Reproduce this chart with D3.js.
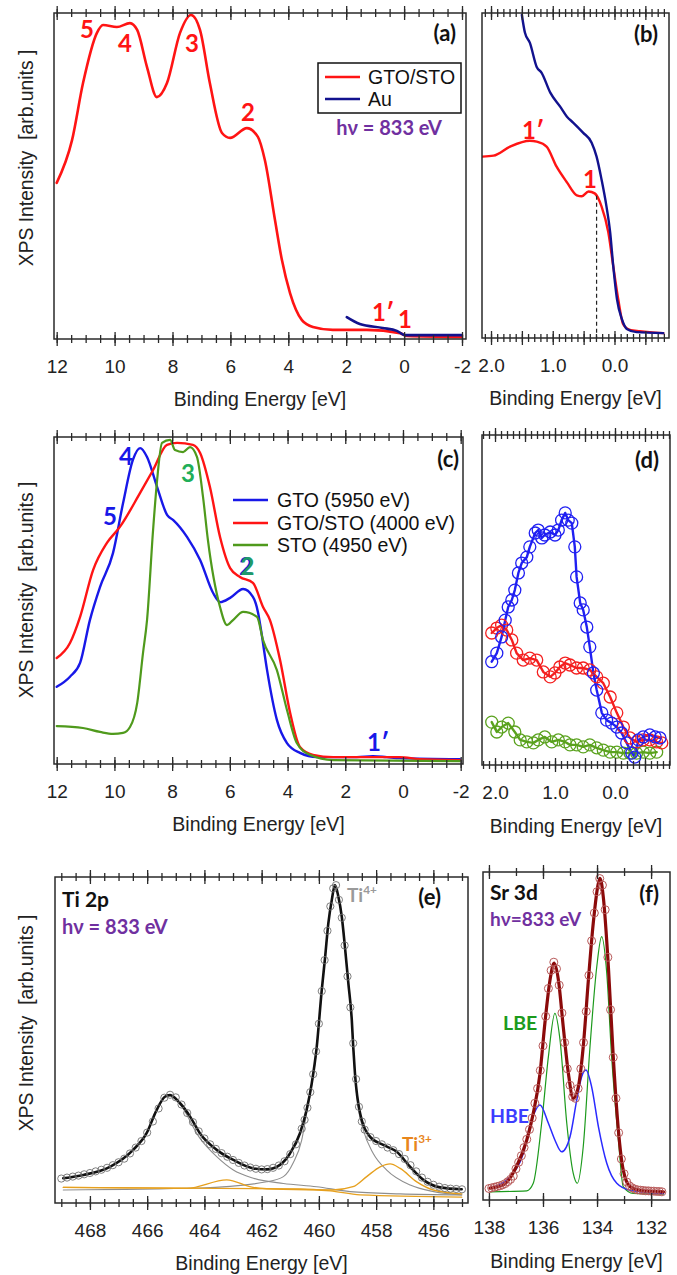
<!DOCTYPE html>
<html><head><meta charset="utf-8">
<script src="https://cdn.jsdelivr.net/npm/d3@7"></script>
<style>body{margin:0;background:#fff} svg{display:block}</style>
</head><body><svg id="c" width="677" height="1275"></svg>
<script>
// ---------------- DATA ----------------
// panel (a)  [binding energy eV, intensity arb.]
const aGtoSto = [[12.0,47.9],[11.47,61.0],[11.09,78.5],[10.61,93.9],[10.40,96.3],[9.92,95.7],[9.47,96.9],[9.22,94.8],[8.88,83.4],[8.54,74.2],[8.19,78.5],[7.74,93.9],[7.36,99.4],[7.05,94.8],[6.71,78.5],[6.29,63.2],[6.01,61.7],[5.43,64.7],[5.05,62.0],[4.81,54.9],[4.46,36.5],[4.22,24.2],[3.94,14.1],[3.53,5.8],[3.15,3.7],[2.46,2.8],[1.29,2.8],[0.14,1.8],[-0.10,0.9],[-2.0,0.6]];
const aAu = [[1.98,6.7],[1.53,4.6],[0.74,3.4],[0.25,2.5],[-0.03,1.2],[-2.0,1.2]];
// panel (b)
const bGtoSto = [[2.14,55.8],[1.96,56.1],[1.69,58.9],[1.37,60.7],[1.26,60.4],[1.10,58.9],[0.94,52.8],[0.77,47.9],[0.61,43.9],[0.53,43.6],[0.42,45.1],[0.32,44.5],[0.21,40.5],[0.10,32.5],[0.02,22.1],[-0.06,12.0],[-0.14,4.3],[-0.25,2.5],[-0.41,2.1],[-0.57,1.8],[-0.79,1.5]];
const bAu = [[1.50,99.4],[1.45,93.9],[1.37,90.8],[1.26,83.4],[1.18,81.6],[1.04,75.5],[0.88,71.2],[0.77,68.1],[0.67,66.3],[0.51,63.2],[0.37,60.1],[0.29,55.8],[0.21,48.8],[0.13,40.5],[0.07,32.5],[0.02,22.1],[-0.04,12.0],[-0.12,5.8],[-0.20,2.8],[-0.36,1.8],[-0.79,1.5]];
const bFermi = [[0.29,43.8],[0.29,0]];
// panel (c)
const cGto = [[12.00,23.6],[11.54,26.7],[11.19,30.9],[10.85,44.0],[10.50,54.1],[10.05,64.5],[9.70,79.8],[9.36,93.0],[9.11,96.6],[8.87,93.9],[8.52,84.7],[8.17,76.1],[7.96,74.6],[7.48,69.4],[7.03,62.4],[6.58,52.3],[6.33,49.5],[5.99,50.8],[5.54,53.5],[5.20,51.1],[5.02,46.2],[4.92,41.0],[4.71,28.7],[4.37,13.5],[4.02,6.4],[3.57,3.4],[2.98,2.1],[1.60,2.1],[1.04,2.4],[0.56,2.1],[0.11,1.8],[-1.97,1.5]];
const cGtoSto = [[12.00,32.4],[11.54,37.0],[11.19,45.0],[10.74,59.3],[10.26,67.6],[9.81,72.5],[9.11,82.9],[8.66,89.9],[8.18,97.6],[7.83,98.2],[7.28,97.6],[7.03,95.1],[6.69,84.7],[6.34,69.4],[5.99,59.9],[5.65,57.2],[5.20,55.4],[4.85,48.0],[4.61,44.0],[4.26,31.8],[3.91,15.6],[3.57,5.2],[3.12,2.8],[2.42,2.1],[0.11,2.1],[-0.58,1.5],[-1.97,1.2]];
const cSto = [[12.00,11.6],[11.09,11.0],[10.50,9.8],[10.05,9.2],[9.70,9.5],[9.46,11.3],[9.21,18.7],[9.01,33.9],[8.87,44.0],[8.66,71.6],[8.52,86.9],[8.35,98.2],[8.07,99.1],[7.90,96.0],[7.62,95.4],[7.38,96.9],[7.14,93.9],[6.93,81.7],[6.76,68.5],[6.34,48.0],[6.10,42.5],[5.89,44.0],[5.54,46.5],[5.06,45.0],[4.85,37.9],[4.37,28.7],[4.02,16.5],[3.68,6.4],[3.23,2.8],[2.42,1.2],[-1.97,0.9]];
const cLegend = ["GTO (5950 eV)","GTO/STO (4000 eV)","STO (4950 eV)"];
// panel (d)
const dGto = [[2.055,31.3],[1.97,33.9],[1.89,38.8],[1.83,43.9],[1.78,47.9],[1.72,50.0],[1.67,53.0],[1.61,58.2],[1.555,61.2],[1.47,63.0],[1.42,66.1],[1.33,70.3],[1.28,71.2],[1.22,68.8],[1.17,69.7],[1.08,70.6],[1.00,69.7],[0.945,71.2],[0.89,74.2],[0.83,76.4],[0.78,74.2],[0.72,73.3],[0.67,66.1],[0.64,57.0],[0.58,49.1],[0.53,47.0],[0.47,41.8],[0.42,35.8],[0.36,27.9],[0.305,22.7],[0.22,15.8],[0.14,13.6],[0.055,12.7],[-0.03,11.5],[-0.11,9.7],[-0.195,6.7],[-0.28,3.6],[-0.33,2.4],[-0.39,7.6],[-0.47,8.5],[-0.58,9.1],[-0.67,8.5],[-0.75,8.2]];
const dGtoSto = [[2.055,40.0],[1.97,41.5],[1.89,42.4],[1.805,40.9],[1.72,37.9],[1.64,33.9],[1.53,31.8],[1.42,32.4],[1.305,31.8],[1.195,28.2],[1.08,26.7],[1.00,27.9],[0.92,29.7],[0.83,30.9],[0.75,30.3],[0.64,29.4],[0.53,29.4],[0.42,28.8],[0.305,26.7],[0.195,24.8],[0.08,20.6],[-0.03,15.8],[-0.14,11.5],[-0.25,8.2],[-0.36,7.0],[-0.47,7.6],[-0.58,7.6],[-0.695,7.0],[-0.78,6.7]];
const dSto = [[2.055,13.0],[1.97,10.0],[1.89,11.5],[1.78,12.7],[1.67,10.0],[1.58,7.6],[1.47,7.0],[1.36,6.7],[1.28,7.6],[1.17,8.5],[1.055,7.0],[0.945,7.6],[0.83,7.0],[0.75,6.1],[0.64,6.1],[0.53,5.5],[0.42,6.1],[0.305,5.2],[0.195,4.5],[0.08,3.9],[-0.03,3.9],[-0.14,3.6],[-0.25,3.6],[-0.36,3.6],[-0.47,3.9],[-0.58,3.6],[-0.695,3.9]];
// panel (e) Ti 2p
const eData = [[469.0,7.5],[468.8,7.8],[468.6,8.1],[468.4,8.4],[468.2,8.8],[468.0,9.2],[467.8,9.7],[467.6,10.2],[467.4,10.8],[467.2,11.6],[467.0,12.5],[466.8,13.6],[466.6,15.2],[466.4,17.0],[466.2,19.0],[466.0,21.6],[465.8,25.0],[465.6,29.0],[465.4,32.3],[465.2,33.2],[465.0,32.4],[464.8,30.2],[464.6,27.6],[464.4,24.8],[464.2,22.0],[464.0,19.8],[463.8,18.0],[463.6,16.6],[463.4,15.3],[463.2,14.2],[463.0,13.2],[462.8,12.3],[462.6,11.5],[462.4,10.9],[462.2,10.5],[462.0,10.3],[461.8,10.4],[461.6,10.8],[461.4,11.5],[461.2,12.8],[461.0,15.0],[460.8,18.0],[460.6,22.8],[460.5,25.5],[460.4,29.2],[460.3,34.0],[460.2,39.5],[460.1,46.5],[460.0,55.0],[459.9,65.0],[459.8,74.5],[459.7,83.5],[459.6,91.0],[459.5,96.5],[459.4,97.5],[459.3,93.0],[459.2,87.5],[459.1,79.0],[459.0,69.5],[458.9,60.0],[458.8,49.0],[458.7,38.0],[458.6,29.5],[458.5,25.0],[458.4,22.5],[458.2,20.2],[458.0,19.0],[457.8,18.0],[457.6,17.0],[457.4,16.2],[457.2,15.0],[457.0,13.5],[456.8,11.6],[456.6,9.7],[456.4,7.8],[456.2,6.5],[456.0,5.6],[455.8,5.0],[455.6,4.6],[455.4,4.4],[455.2,4.3],[455.0,4.2]];
const eFit = [[468.93,7.6],[468.23,8.6],[467.30,11.1],[466.49,16.3],[466.02,21.4],[465.67,28.5],[465.38,32.6],[465.20,33.1],[464.85,30.6],[464.50,26.5],[464.16,21.4],[463.57,16.3],[462.99,13.2],[462.29,10.6],[461.82,10.3],[461.36,11.7],[461.01,15.2],[460.66,21.4],[460.43,28.5],[460.25,36.7],[460.08,47.5],[459.90,65.3],[459.78,75.6],[459.67,85.8],[459.55,92.9],[459.44,97.5],[459.32,94.0],[459.20,87.8],[459.09,78.6],[458.97,67.4],[458.85,56.1],[458.80,47.9],[458.74,39.8],[458.56,27.5],[458.21,20.3],[457.75,17.8],[457.28,15.7],[456.81,11.1],[456.35,7.1],[455.77,4.8],[455.01,4.2]];
const eTi4Hi = [[468.93,7.6],[468.23,8.6],[467.30,11.1],[466.49,16.3],[466.02,21.4],[465.67,28.5],[465.38,32.6],[465.20,33.1],[464.85,30.3],[464.16,19.9],[463.57,14.2],[462.99,10.1],[462.29,7.6],[461.24,6.0],[460.08,5.0],[458.91,3.5],[457.16,2.8],[455.01,2.5]];
const eTi4Lo = [[468.93,4.0],[464.16,4.6],[461.82,6.5],[461.24,8.1],[460.90,12.3],[460.60,19.3],[460.43,27.5],[460.25,36.0],[460.08,47.0],[459.90,65.0],[459.78,75.6],[459.67,85.8],[459.55,92.9],[459.44,97.5],[459.32,94.0],[459.20,87.8],[459.09,78.6],[458.97,67.4],[458.85,56.0],[458.74,39.0],[458.63,29.5],[458.45,22.4],[458.10,15.2],[457.63,10.1],[456.81,5.5],[455.99,3.5],[455.01,2.5]];
const eTi3 = [[468.93,4.8],[464.61,4.5],[463.22,7.1],[462.30,4.8],[461.25,4.2],[459.51,4.0],[458.81,5.0],[458.33,8.1],[457.86,11.1],[457.51,12.0],[457.16,10.6],[456.58,6.5],[456.00,4.0],[455.01,2.8]];
const eBgOrange = [[468.93,4.8],[460.66,4.3],[459.60,3.7],[458.56,2.5],[455.01,1.8]];
// panel (f) Sr 3d
const fData = [[138.0,3.5],[137.9,3.7],[137.8,3.9],[137.7,4.1],[137.6,4.3],[137.5,4.6],[137.4,5.0],[137.3,5.6],[137.2,6.3],[137.1,7.3],[137.0,9.5],[136.9,11.5],[136.8,13.5],[136.7,16.0],[136.6,18.5],[136.5,21.5],[136.4,25.0],[136.3,29.5],[136.2,34.0],[136.1,39.5],[136.0,47.0],[135.9,56.0],[135.8,64.5],[135.7,70.0],[135.6,72.5],[135.5,70.5],[135.4,65.5],[135.3,57.0],[135.2,48.0],[135.1,40.0],[135.0,35.0],[134.9,31.5],[134.8,31.0],[134.7,34.0],[134.6,40.0],[134.5,48.0],[134.4,57.5],[134.3,68.5],[134.2,79.0],[134.1,87.5],[134.0,94.0],[133.9,98.0],[133.8,96.0],[133.7,88.5],[133.6,74.0],[133.5,58.0],[133.4,43.5],[133.3,31.0],[133.2,20.5],[133.1,12.5],[133.0,8.0],[132.9,5.5],[132.8,4.3],[132.7,3.7],[132.6,3.3],[132.5,3.1],[132.4,3.0],[132.3,2.9],[132.2,2.8],[132.1,2.8],[132.0,2.7],[131.9,2.7],[131.8,2.6],[131.7,2.6],[131.6,2.5]];
const fFit = [[137.96,3.6],[137.47,4.6],[136.98,10.2],[136.60,18.3],[136.36,26.4],[136.11,38.6],[135.93,53.9],[135.74,67.1],[135.59,72.2],[135.43,67.1],[135.25,52.8],[135.06,38.6],[134.88,31.0],[134.69,34.6],[134.51,46.8],[134.32,67.1],[134.14,84.4],[133.95,96.6],[133.89,98.1],[133.77,92.5],[133.58,71.1],[133.40,43.7],[133.21,21.3],[133.03,9.1],[132.78,4.1],[132.29,2.8],[131.54,2.5]];
const fLBE = [[137.96,2.5],[136.60,2.8],[136.36,5.1],[136.05,23.4],[135.80,43.7],[135.56,56.9],[135.37,48.8],[135.12,23.4],[134.88,8.1],[134.73,5.1],[134.51,16.3],[134.26,46.8],[134.01,71.1],[133.83,80.3],[133.64,69.1],[133.46,43.7],[133.21,18.3],[133.03,4.1],[132.66,2.0],[131.54,1.8]];
const fHBE = [[137.96,3.6],[137.22,7.1],[136.73,14.2],[136.42,24.4],[136.11,29.0],[135.80,23.4],[135.56,18.3],[135.31,14.7],[135.00,19.3],[134.75,30.5],[134.57,37.6],[134.41,39.6],[134.20,34.5],[133.95,22.4],[133.64,11.2],[133.27,5.1],[132.78,3.0],[131.54,2.0]];
// tick labels
const ticksVB = [12,10,8,6,4,2,0,-2];
const ticksLow = [2.0,1.0,0.0];
const ticksLowMid = [1.5,0.5,-0.5];
const ticksTi = [468,466,464,462,460,458,456];
const ticksSr = [138,136,134,132];

// ---------------- DRAWING ----------------
const svg = d3.select("#c");
const FA = "'Liberation Sans', Arial, sans-serif";
const FC = "Lato, 'Open Sans', sans-serif";
const INK = "#2a2a2a";

function panel(id, box, xd) {
  const x = d3.scaleLinear().domain(xd).range([box[0], box[1]]);
  const y = d3.scaleLinear().domain([0, 100]).range([box[3], box[2]]);
  svg.append("clipPath").attr("id", "clip" + id).append("rect")
    .attr("x", box[0]).attr("y", box[2]).attr("width", box[1] - box[0]).attr("height", box[3] - box[2]);
  const g = svg.append("g").attr("clip-path", `url(#clip${id})`);
  return {x, y, g, box};
}
function axes(p, labeled, extraMajor, minor, fmt, title, ylab) {
  const [x0, x1, y0, y1] = p.box;
  const mk = (gen, vals, len, yy, lab) => {
    const a = svg.append("g").attr("transform", `translate(0,${yy})`)
      .call(gen(p.x).tickValues(vals).tickSize(len).tickPadding(13.5).tickFormat(lab ? fmt : () => ""));
    a.select(".domain").remove();
    a.selectAll("line").attr("stroke", INK).attr("stroke-width", 1.3);
    a.selectAll("text").attr("font-family", FA).attr("font-size", 19).attr("fill", "#222");
  };
  const majors = labeled.concat(extraMajor);
  [y0, y1].forEach(yy => {
    mk(d3.axisBottom, labeled, 7, yy, yy === y1);
    if (extraMajor.length) mk(d3.axisBottom, extraMajor, 7, yy, false);
    mk(d3.axisTop, majors, 7, yy, false);
    mk(d3.axisBottom, minor, 4, yy, false);
    mk(d3.axisTop, minor, 4, yy, false);
  });
  svg.append("rect").attr("x", x0).attr("y", y0).attr("width", x1 - x0).attr("height", y1 - y0)
    .attr("fill", "none").attr("stroke", INK).attr("stroke-width", 1.5);
  svg.append("text").attr("x", (x0 + x1) / 2).attr("y", title).attr("text-anchor", "middle")
    .attr("font-family", FA).attr("font-size", 19.5).attr("fill", "#222").text("Binding Energy [eV]");
  if (ylab) {
    svg.append("text").attr("transform", `translate(33,${ylab}) rotate(-90)`).attr("text-anchor", "middle")
      .style("white-space", "pre").attr("font-family", FA).attr("font-size", 19.3).attr("fill", "#222")
      .text("XPS Intensity  [arb.units ]");
  }
}
function curve(p, data, color, w, lin) {
  const line = d3.line().x(d => p.x(d[0])).y(d => p.y(d[1])).curve(lin ? d3.curveLinear : d3.curveMonotoneX);
  return p.g.append("path").datum(data).attr("d", line).attr("fill", "none")
    .attr("stroke", color).attr("stroke-width", w).attr("stroke-linejoin", "round").attr("stroke-linecap", "round");
}
function circles(p, data, color, r, w) {
  svg.append("g").selectAll("circle").data(data).join("circle")
    .attr("cx", d => p.x(d[0])).attr("cy", d => p.y(d[1])).attr("r", r)
    .attr("fill", "none").attr("stroke", color).attr("stroke-width", w);
}
function txt(x, y, s, o) {
  return svg.append("text").attr("x", x).attr("y", y).attr("text-anchor", o.anchor || "start")
    .attr("font-family", o.font || FC).attr("font-weight", o.weight || "bold")
    .attr("font-size", o.size || 22).attr("fill", o.color || "#111").text(s);
}
function sup(x, y, base, s, o) {
  const t = txt(x, y, base, o);
  t.append("tspan").attr("font-size", (o.size || 20) * 0.62).attr("dy", -8).text(s);
}
const range = (a, b, s) => d3.range(Math.round((b - a) / s) + 1).map(i => +(a + i * s).toFixed(3));

const RED = "#ff1414", NAVY = "#12128e", BLUE = "#1818e8", GREEN = "#4f9a1c", EMER = "#20ae58", PURPLE = "#7030a0";
const fmtInt = d => String(d), fmt1 = d => d.toFixed(1);

// ---- (a)
const pa = panel("a", [54, 466, 13, 339], [12.093, -2.138]);
curve(pa, aGtoSto, RED, 2.6);
curve(pa, aAu, NAVY, 2.6);
axes(pa, ticksVB, [], range(-2, 12, 0.5), fmtInt, 406, 158);
svg.append("rect").attr("x", 318).attr("y", 63).attr("width", 143).attr("height", 50)
  .attr("fill", "#fff").attr("stroke", "#111").attr("stroke-width", 1.5);
[[RED, "GTO/STO", 77], [NAVY, "Au", 99]].forEach(([c, s, yy]) => {
  svg.append("line").attr("x1", 325).attr("x2", 360).attr("y1", yy).attr("y2", yy).attr("stroke", c).attr("stroke-width", 2.6);
  txt(368, yy + 7, s, {font: FA, weight: "normal", size: 19.5, color: "#111"});
});
txt(389, 135, "h\u03bd = 833 eV", {anchor: "middle", size: 20, color: PURPLE});
txt(456, 41, "(a)", {anchor: "end", size: 22});
[["5", 87, 37.5], ["4", 125, 51.5], ["3", 192, 51.5], ["2", 248, 120.5], ["1\u2032", 383, 321], ["1", 405, 328]]
  .forEach(([s, xx, yy]) => txt(xx, yy, s, {anchor: "middle", size: 24, color: RED}));

// ---- (b)
const pb = panel("b", [482, 669, 13, 338], [2.146, -0.883]);
curve(pb, bGtoSto, RED, 2.4);
curve(pb, bAu, NAVY, 2.4);
curve(pb, bFermi, "#222", 1.2, true).attr("stroke-dasharray", "4,3").attr("stroke-linecap", "butt");
axes(pb, ticksLow, ticksLowMid, range(-0.8, 2.1, 0.1), fmt1, 405, null);
txt(658, 42, "(b)", {anchor: "end", size: 22});
txt(533, 139, "1\u2032", {anchor: "middle", size: 24, color: RED});
txt(590, 188, "1", {anchor: "middle", size: 24, color: RED});

// ---- (c)
const pc = panel("c", [54, 463, 437, 764], [12.094, -2.08]);
curve(pc, cGto, BLUE, 2.4);
curve(pc, cGtoSto, RED, 2.4);
curve(pc, cSto, GREEN, 2.2);
axes(pc, ticksVB, [], range(-2, 12, 0.5), fmtInt, 831, 590);
[BLUE, RED, GREEN].forEach((c, i) => {
  const yy = [500, 523, 545][i];
  svg.append("line").attr("x1", 233).attr("x2", 268).attr("y1", yy).attr("y2", yy).attr("stroke", c).attr("stroke-width", 2.4);
  txt(277, yy + 7, cLegend[i], {font: FA, weight: "normal", size: 19.5, color: "#111"});
});
txt(459, 467, "(c)", {anchor: "end", size: 22});
txt(126, 465, "4", {anchor: "middle", size: 24, color: BLUE});
txt(110, 525, "5", {anchor: "middle", size: 24, color: BLUE});
txt(188, 482, "3", {anchor: "middle", size: 24, color: EMER});
txt(246, 575, "2", {anchor: "middle", size: 24, color: BLUE});
txt(247.5, 575, "2", {anchor: "middle", size: 24, color: "#1f9a6a"});
txt(378, 751, "1\u2032", {anchor: "middle", size: 24, color: BLUE});

// ---- (d)
const pd = panel("d", [482, 670, 435, 765], [2.217, -0.917]);
const DG = "#5aa21e", DR = "#f42020", DB = "#2020f2";
[[dSto, DG], [dGtoSto, DR], [dGto, DB]].forEach(([d, c]) => {
  curve(pd, d, c, 2.4, true);
  circles(pd, d, c, 6, 1.3);
});
axes(pd, ticksLow, ticksLowMid, range(-0.9, 2.2, 0.1), fmt1, 833, null);
txt(659, 468, "(d)", {anchor: "end", size: 22});

// ---- (e)
const pe = panel("e", [55, 468, 877, 1203], [469.22, 454.79]);
circles(pe, eData, "#707070", 3.6, 0.9);
curve(pe, eTi4Hi, "#8e8e8e", 1.1);
curve(pe, eTi4Lo, "#8e8e8e", 1.1);
curve(pe, eBgOrange, "#e6a01e", 1.3);
curve(pe, eTi3, "#e6a01e", 1.4);
curve(pe, eFit, "#111", 2.6);
axes(pe, ticksTi, [], range(455, 469, 0.5), fmtInt, 1270, 1023);
txt(62, 907, "Ti 2p", {size: 21, color: "#111"});
txt(62, 934, "h\u03bd = 833 eV", {size: 20, color: PURPLE});
sup(347, 902, "Ti", "4+", {size: 19, color: "#9a9a9a"});
sup(402, 1151, "Ti", "3+", {size: 19, color: "#e8861c"});
txt(441, 905, "(e)", {anchor: "end", size: 22});

// ---- (f)
const pf = panel("f", [483, 670, 872, 1200], [138.22, 131.30]);
curve(pf, fLBE, "#1c9a1c", 1.2);
curve(pf, fHBE, "#2a2aff", 1.5);
curve(pf, fFit, "#8b0a0a", 3.2);
circles(pf, fData, "#b85a5a", 4, 1.0);
axes(pf, ticksSr, [], range(132, 138, 1), fmtInt, 1268, null);
txt(490, 900, "Sr 3d", {size: 21, color: "#111"});
txt(490, 926, "h\u03bd=833 eV", {size: 19, color: PURPLE});
txt(659, 902, "(f)", {anchor: "end", size: 22});
txt(503, 1030, "LBE", {size: 19.5, color: "#1c9a1c"});
txt(490, 1123, "HBE", {size: 19.5, color: "#3c3cff"});
</script></body></html>
